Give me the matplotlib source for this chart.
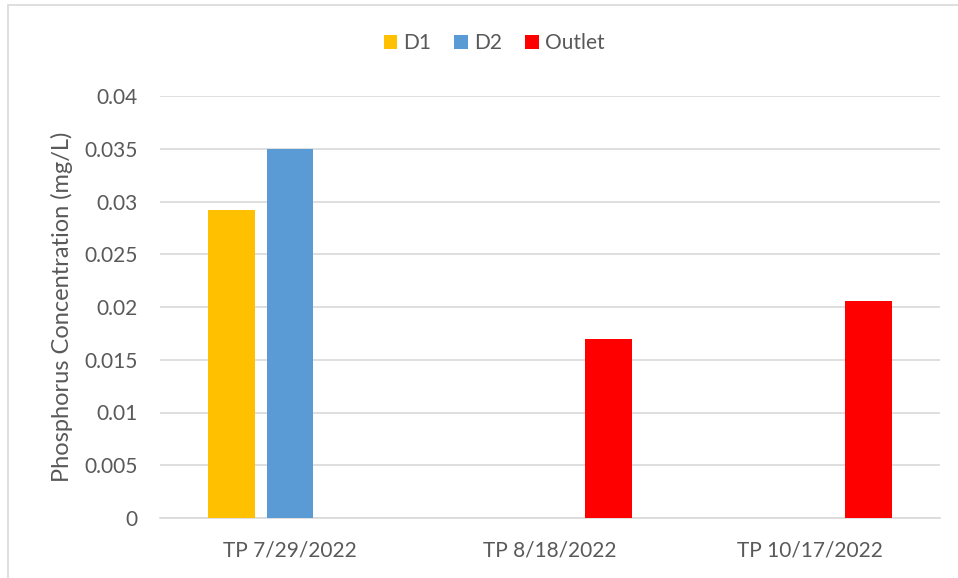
import numpy as np
import matplotlib
matplotlib.use('Agg')
import matplotlib.pyplot as plt
from matplotlib.patches import Rectangle

# data
categories = ['TP 7/29/2022', 'TP 8/18/2022', 'TP 10/17/2022']
d1 = [0.0292, np.nan, np.nan]
d2 = [0.0350, np.nan, np.nan]
outlet = [np.nan, 0.0170, 0.0206]
yticks = [0, 0.005, 0.01, 0.015, 0.02, 0.025, 0.03, 0.035, 0.04]
ytick_labels = ['0', '0.005', '0.01', '0.015', '0.02', '0.025', '0.03', '0.035', '0.04']

plt.rcParams['font.family'] = ['Lato', 'DejaVu Sans']
text_col = '#595959'
fs = 15

fig = plt.figure(figsize=(9.58, 5.78), dpi=100)
# chart area border (only left/top visible in the crop)
fig.patches.append(Rectangle((8 / 958, -0.1), 2, 1.1 - 5 / 578, transform=fig.transFigure,
                             fill=False, edgecolor='#D9D9D9', linewidth=1.2))

ax = fig.add_axes([160 / 958, 1 - 518 / 578, 780 / 958, 422 / 578])

x = np.arange(len(categories))
w = 0.18
off = 0.224
ax.bar(x - off, d1, w, color='#FFC000', label='D1', zorder=3)
ax.bar(x, d2, w, color='#5B9BD5', label='D2', zorder=3)
ax.bar(x + off, outlet, w, color='#FF0000', label='Outlet', zorder=3)

ax.set_xlim(-0.5, 2.5)
ax.set_ylim(0, 0.04)
ax.set_yticks(yticks)
ax.set_yticklabels(ytick_labels)
ax.set_xticks(x)
ax.set_xticklabels(categories)
ax.tick_params(axis='both', length=0, labelsize=fs, colors=text_col)
ax.tick_params(axis='y', pad=16)
ax.tick_params(axis='x', pad=16)
ax.grid(axis='y', color='#D9D9D9', linewidth=1.2, zorder=0)
for s in ['left', 'right', 'top']:
    ax.spines[s].set_visible(False)
ax.spines['bottom'].set_color('#D9D9D9')
ax.spines['bottom'].set_linewidth(1.2)

ax.set_ylabel('Phosphorus Concentration (mg/L)', fontsize=17, color=text_col)
ax.yaxis.set_label_coords(-0.111, 0.5)

leg = ax.legend(loc='center', bbox_to_anchor=(494 / 958, 1 - 43 / 578), bbox_transform=fig.transFigure,
                ncol=3, frameon=False, fontsize=fs, handlelength=0.65, handleheight=0.65,
                handletextpad=0.3, columnspacing=1.1)
for t in leg.get_texts():
    t.set_color(text_col)

fig.savefig('out.png', dpi=100)
